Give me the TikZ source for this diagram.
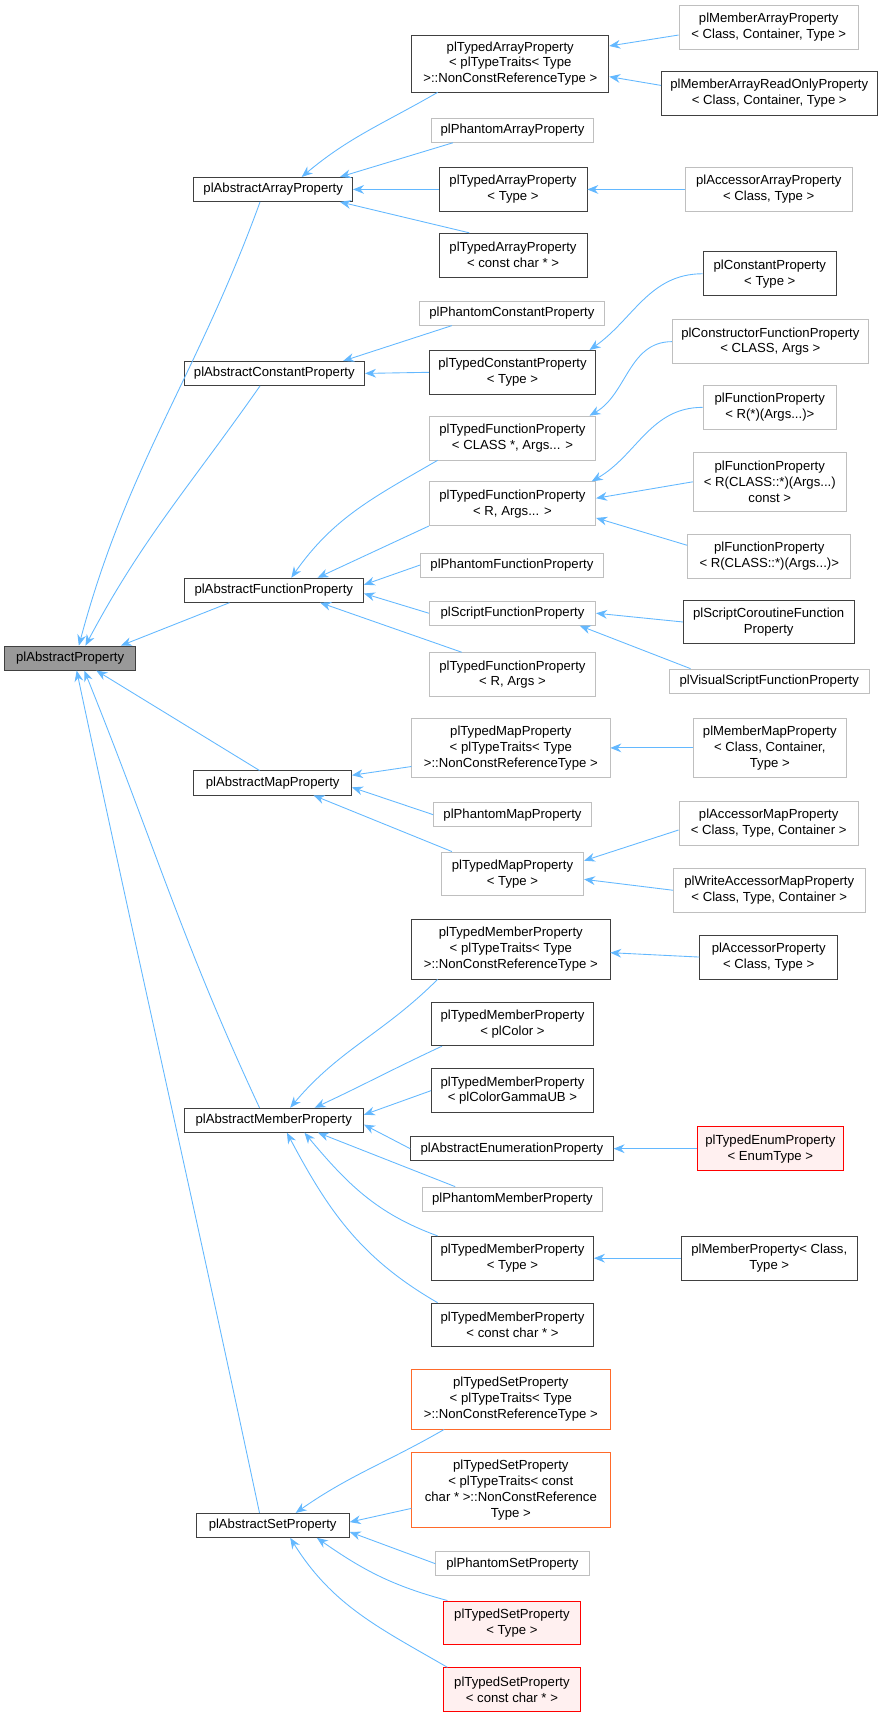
\documentclass[tikz,border=0pt]{standalone}
\usepackage{fontspec}
\setmainfont{Liberation Sans}
\usetikzlibrary{arrows.meta}
\definecolor{edgeblue}{HTML}{63B8FF}
\definecolor{darkline}{HTML}{404040}
\definecolor{lightline}{HTML}{BFBFBF}
\definecolor{rootfill}{HTML}{999999}
\definecolor{orangeline}{HTML}{FF6A2A}
\definecolor{redfill}{HTML}{FFF0F0}
\tikzset{
  cls/.style={draw=darkline, line width=0.75pt, fill=white, inner sep=0pt, align=center,
    font=\fontsize{12}{14.5}\selectfont, minimum height=22},
  faint/.style={cls, draw=lightline},
  orng/.style={cls, draw=orangeline},
  redcls/.style={cls, draw=red, fill=redfill},
  edge/.style={draw=edgeblue, line width=0.8pt, -{Stealth[length=10, width=8, fill=edgeblue]}}
}
\begin{document}
\begin{tikzpicture}[x=1pt,y=-1pt]
\useasboundingbox (0,0) rectangle (806,1568);
% root
\node[cls, fill=rootfill, minimum width=120] (A) at (64,601) {plAbstractProperty};
% abstract layer
\node[cls, minimum width=145] (B1) at (249.5,173) {plAbstractArrayProperty};
\node[cls, minimum width=165] (B2) at (250.5,341) {plAbstractConstantProperty};
\node[cls, minimum width=164] (B3) at (250,539) {plAbstractFunctionProperty};
\node[cls, minimum width=144] (B4) at (249,715) {plAbstractMapProperty};
\node[cls, minimum width=164] (B5) at (250,1023) {plAbstractMemberProperty};
\node[cls, minimum width=140] (B6) at (249,1393) {plAbstractSetProperty};
% typed layer
\node[cls, minimum width=180, minimum height=52] (C1) at (466,58) {plTypedArrayProperty\\< plTypeTraits< Type\\>::NonConstReferenceType >};
\node[faint, minimum width=148] (C2) at (468,119) {plPhantomArrayProperty};
\node[cls, minimum width=135, minimum height=40] (C3) at (468.5,173) {plTypedArrayProperty\\< Type >};
\node[cls, minimum width=135, minimum height=40] (C4) at (468.5,233) {plTypedArrayProperty\\< const char * >};
\node[faint, minimum width=169] (C5) at (467.5,286) {plPhantomConstantProperty};
\node[cls, minimum width=152, minimum height=40] (C6) at (468,340) {plTypedConstantProperty\\< Type >};
\node[faint, minimum width=152, minimum height=40] (C7) at (468,400) {plTypedFunctionProperty\\< CLASS *, Args... >};
\node[faint, minimum width=152, minimum height=40] (C8) at (468,460) {plTypedFunctionProperty\\< R, Args... >};
\node[faint, minimum width=167] (C9) at (467.5,516) {plPhantomFunctionProperty};
\node[faint, minimum width=152] (C10) at (468,560) {plScriptFunctionProperty};
\node[faint, minimum width=152, minimum height=40] (C11) at (468,616) {plTypedFunctionProperty\\< R, Args >};
\node[faint, minimum width=181, minimum height=54] (C12) at (466.5,683) {plTypedMapProperty\\< plTypeTraits< Type\\>::NonConstReferenceType >};
\node[faint, minimum width=144] (C13) at (468,744) {plPhantomMapProperty};
\node[faint, minimum width=130, minimum height=40] (C14) at (468,798) {plTypedMapProperty\\< Type >};
\node[cls, minimum width=181, minimum height=54] (C15) at (466.5,867) {plTypedMemberProperty\\< plTypeTraits< Type\\>::NonConstReferenceType >};
\node[cls, minimum width=148, minimum height=40] (C16) at (468,935) {plTypedMemberProperty\\< plColor >};
\node[cls, minimum width=148, minimum height=40] (C17) at (468,996) {plTypedMemberProperty\\< plColorGammaUB >};
\node[cls, minimum width=185] (C18) at (467.5,1049) {plAbstractEnumerationProperty};
\node[faint, minimum width=164] (C19) at (468,1095) {plPhantomMemberProperty};
\node[cls, minimum width=148, minimum height=40] (C20) at (468,1149) {plTypedMemberProperty\\< Type >};
\node[cls, minimum width=148, minimum height=40] (C21) at (468,1210) {plTypedMemberProperty\\< const char * >};
\node[orng, minimum width=181, minimum height=54] (C22) at (466.5,1278) {plTypedSetProperty\\< plTypeTraits< Type\\>::NonConstReferenceType >};
\node[orng, minimum width=181, minimum height=69] (C23) at (466.5,1360.5) {plTypedSetProperty\\< plTypeTraits< const\\char * >::NonConstReference\\Type >};
\node[faint, minimum width=140] (C24) at (468,1428) {plPhantomSetProperty};
\node[redcls, minimum width=125, minimum height=40] (C25) at (467.5,1482) {plTypedSetProperty\\< Type >};
\node[redcls, minimum width=125, minimum height=40] (C26) at (467.5,1543) {plTypedSetProperty\\< const char * >};
% concrete layer
\node[faint, minimum width=164, minimum height=40] (D1) at (702,25) {plMemberArrayProperty\\< Class, Container, Type >};
\node[cls, minimum width=197, minimum height=40] (D2) at (702.5,85) {plMemberArrayReadOnlyProperty\\< Class, Container, Type >};
\node[faint, minimum width=152, minimum height=40] (D3) at (702,173) {plAccessorArrayProperty\\< Class, Type >};
\node[cls, minimum width=122, minimum height=40] (D4) at (703,250) {plConstantProperty\\< Type >};
\node[faint, minimum width=179, minimum height=40] (D5) at (703.5,312) {plConstructorFunctionProperty\\< CLASS, Args >};
\node[faint, minimum width=122, minimum height=40] (D6) at (703,372) {plFunctionProperty\\< R(*)(Args...)>};
\node[faint, minimum width=140, minimum height=54] (D7) at (703,440) {plFunctionProperty\\< R(CLASS::*)(Args...)\\const >};
\node[faint, minimum width=149, minimum height=40] (D8) at (702.5,508) {plFunctionProperty\\< R(CLASS::*)(Args...)>};
\node[cls, minimum width=156, minimum height=40] (D9) at (702,568) {plScriptCoroutineFunction\\Property};
\node[faint, minimum width=183] (D10) at (702.5,622) {plVisualScriptFunctionProperty};
\node[faint, minimum width=140, minimum height=54] (D11) at (703,683) {plMemberMapProperty\\< Class, Container,\\Type >};
\node[faint, minimum width=164, minimum height=40] (D12) at (702,752) {plAccessorMapProperty\\< Class, Type, Container >};
\node[faint, minimum width=175, minimum height=40] (D13) at (702.5,813) {plWriteAccessorMapProperty\\< Class, Type, Container >};
\node[cls, minimum width=126, minimum height=40] (D14) at (702,874) {plAccessorProperty\\< Class, Type >};
\node[redcls, minimum width=133, minimum height=40] (D15) at (703.5,1049) {plTypedEnumProperty\\< EnumType >};
\node[cls, minimum width=161, minimum height=40] (D16) at (702.5,1149) {plMemberProperty< Class,\\Type >};
% edges to the root
\draw[edge] ([xshift=-12]B1.south) to[out=-110,in=75] ([xshift=8]A.north);
\draw[edge] ([xshift=-13]B2.south) to[out=-125,in=62] ([xshift=14]A.north);
\draw[edge] ([xshift=42]B3.south west) -- ([xshift=-14]A.north east);
\draw[edge] ([xshift=-12]B4.north) -- ([xshift=24]A.south);
\draw[edge] ([xshift=-13]B5.north) to[out=115,in=-68] ([xshift=13]A.south);
\draw[edge] ([xshift=-12]B6.north) to[out=102,in=-78] ([xshift=6]A.south);
% array
\draw[edge] ([xshift=24]C1.south west) to[out=-150,in=40] ([xshift=26]B1.north);
\draw[edge] ([xshift=20]C2.south west) -- ([xshift=-12]B1.north east);
\draw[edge] (C3.west) -- (B1.east);
\draw[edge] ([xshift=28]C4.north west) -- ([xshift=-12]B1.south east);
% constant
\draw[edge] ([xshift=30]C5.south west) -- ([xshift=-20]B2.north east);
\draw[edge] (C6.west) -- (B2.east);
% function
\draw[edge] ([xshift=8]C7.south west) to[out=-150,in=55] ([xshift=16]B3.north);
\draw[edge] (C8.south west) -- ([xshift=40]B3.north);
\draw[edge] (C9.west) -- ([yshift=5]B3.east);
\draw[edge] (C10.west) -- ([yshift=-3]B3.east);
\draw[edge] ([xshift=30]C11.north west) -- ([xshift=-40]B3.south east);
% map
\draw[edge] ([yshift=-17]C12.west) -- ([yshift=7]B4.east);
\draw[edge] (C13.west) -- ([yshift=-4]B4.east);
\draw[edge] ([xshift=10]C14.north west) -- ([xshift=-35]B4.south east);
% member
\draw[edge] ([xshift=24]C15.south west) to[out=-135,in=50] ([xshift=15]B5.north);
\draw[edge] ([xshift=10]C16.south west) to[out=-155,in=25] ([xshift=-45]B5.north east);
\draw[edge] (C17.west) -- ([yshift=5]B5.east);
\draw[edge] (C18.west) -- ([yshift=-4]B5.east);
\draw[edge] ([xshift=30]C19.north west) -- ([xshift=-42]B5.south east);
\draw[edge] ([xshift=6]C20.north west) to[out=160,in=-50] ([xshift=28]B5.south);
\draw[edge] ([xshift=6]C21.north west) to[out=150,in=-62] ([xshift=12]B5.south);
% set
\draw[edge] ([xshift=30]C22.south west) to[out=-150,in=35] ([xshift=21]B6.north);
\draw[edge] ([yshift=-17]C23.west) -- ([yshift=3]B6.east);
\draw[edge] (C24.west) -- ([yshift=-6]B6.east);
\draw[edge] ([xshift=4]C25.north west) to[out=165,in=-35] ([xshift=-30]B6.south east);
\draw[edge] ([xshift=4]C26.north west) to[out=150,in=-58] ([xshift=16]B6.south);
% concrete classes
\draw[edge] ([yshift=-7]D1.west) -- ([yshift=16]C1.east);
\draw[edge] ([yshift=7]D2.west) -- ([yshift=-12]C1.east);
\draw[edge] (D3.west) -- (C3.east);
\draw[edge] (D4.west) to[out=180,in=35] ([xshift=-6]C6.north east);
\draw[edge] (D5.west) to[out=180,in=30] ([xshift=-6]C7.north east);
\draw[edge] (D6.west) to[out=180,in=30] ([xshift=-4]C8.north east);
\draw[edge] (D7.west) -- ([yshift=5]C8.east);
\draw[edge] ([yshift=10]D8.west) -- ([yshift=-13]C8.east);
\draw[edge] (D9.west) -- (C10.east);
\draw[edge] ([xshift=20]D10.north west) -- ([xshift=-15]C10.south east);
\draw[edge] (D11.west) -- (C12.east);
\draw[edge] ([yshift=-6]D12.west) -- ([yshift=12]C14.east);
\draw[edge] (D13.west) -- ([yshift=-5]C14.east);
\draw[edge] (D14.west) -- ([yshift=-3]C15.east);
\draw[edge] (D15.west) -- (C18.east);
\draw[edge] (D16.west) -- (C20.east);
\end{tikzpicture}
\end{document}
